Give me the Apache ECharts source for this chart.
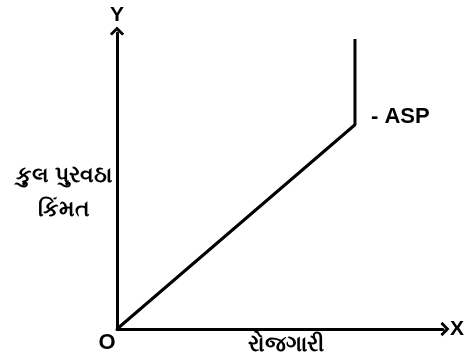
<!DOCTYPE html>
<html>
<head>
<meta charset="utf-8">
<script src="https://cdn.jsdelivr.net/npm/echarts@6/dist/echarts.min.js"></script>
<style>
  html, body { margin: 0; padding: 0; background: #fff; }
  #chart { width: 467px; height: 353px; }
</style>
</head>
<body>
<div id="chart"></div>
<script>
// supply curve: rises from origin, then vertical at full employment
const curveX = [0, 73, 73];
const curveY = [0, 69, 98];
const kinkIndex = 1;
const kinkLabel = '- ASP';
const xName = 'X';
const yName = 'Y';
const xTitle = 'રોજગારી';
const yTitle = 'કુલ પુરવઠા\nકિંમત';
const originLabel = 'O';

const chart = echarts.init(document.getElementById('chart'));

// open chevron arrow head, pointing up (rotated by echarts per axis)
const chevron = 'path://M0,10 L10,0 L20,10 L17,12.5 L10,5.5 L3,12.5 Z';

const points = curveX.map((x, i) => [x, curveY[i]]);

const axisCommon = {
  type: 'value',
  min: 0,
  max: 100,
  axisLine: {
    show: true,
    symbol: ['none', chevron],
    symbolSize: [15, 9],
    symbolOffset: [0, 2],
    lineStyle: { color: '#000', width: 3 }
  },
  axisTick: { show: false },
  axisLabel: { show: false },
  splitLine: { show: false },
  nameTextStyle: {
    color: '#000',
    fontFamily: 'Liberation Sans',
    fontWeight: 'bold',
    fontSize: 21
  }
};

chart.setOption({
  backgroundColor: '#fff',
  animation: false,
  grid: { left: 117, right: 22, top: 33, bottom: 24 },
  xAxis: Object.assign({}, axisCommon, {
    name: xName,
    nameLocation: 'end',
    nameGap: 7
  }),
  yAxis: Object.assign({}, axisCommon, {
    name: yName,
    nameLocation: 'end',
    nameGap: 7
  }),
  series: [
    {
      type: 'line',
      data: points,
      showSymbol: false,
      symbol: 'none',
      lineStyle: { color: '#000', width: 3 },
      markPoint: {
        symbol: 'circle',
        symbolSize: 0,
        data: [{
          coord: points[kinkIndex],
          label: {
            show: true,
            formatter: kinkLabel,
            position: 'right',
            offset: [11, -8],
            color: '#000',
            fontFamily: 'Liberation Sans',
            fontWeight: 'bold',
            fontSize: 22
          }
        }]
      }
    }
  ],
  graphic: [
    {
      type: 'text',
      x: 107,
      y: 343,
      style: {
        text: originLabel,
        fill: '#000',
        align: 'center',
        verticalAlign: 'middle',
        font: 'bold 22px "Liberation Sans"'
      }
    },
    {
      type: 'text',
      x: 286,
      y: 345,
      style: {
        text: xTitle,
        fill: '#000',
        align: 'center',
        verticalAlign: 'middle',
        font: 'bold 22px "Noto Sans", sans-serif'
      }
    },
    {
      type: 'text',
      x: 64,
      y: 193,
      style: {
        text: yTitle,
        fill: '#000',
        align: 'center',
        verticalAlign: 'middle',
        lineHeight: 34,
        font: 'bold 22px "Noto Sans", sans-serif'
      }
    }
  ]
});
</script>
</body>
</html>
